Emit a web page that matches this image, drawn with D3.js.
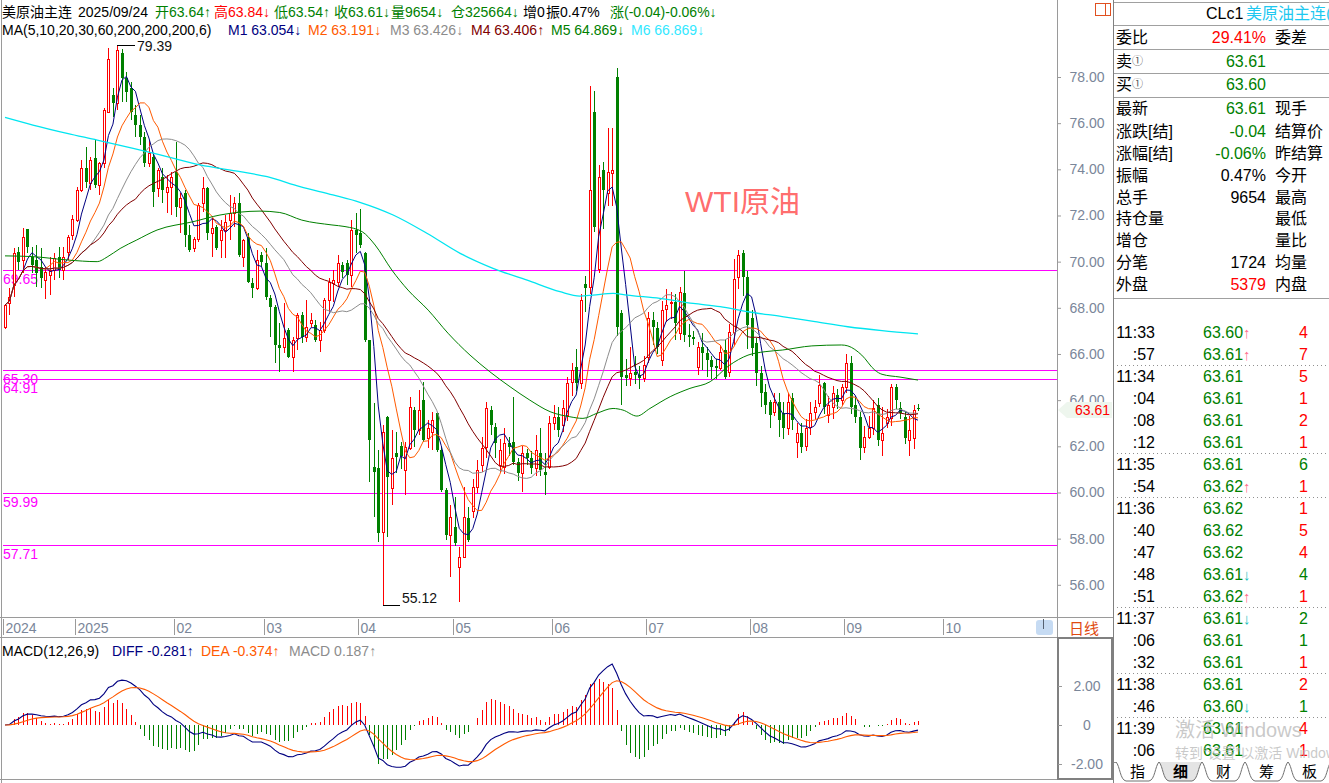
<!DOCTYPE html>
<html><head><meta charset="utf-8">
<script src="https://cdn.jsdelivr.net/npm/d3@7"></script>
<style>
body{margin:0;background:#fff;overflow:hidden}
svg{display:block;font-family:"Liberation Sans",Arial,"Noto Sans CJK SC",sans-serif}
</style></head><body>
<svg id="c" width="1329" height="783"></svg>
<script>
// ---------- DATA ----------
const opens=[67.18,68.2,69.0,70.43,70.07,71.41,70.22,70.07,69.78,69.2,
69.42,69.64,70.22,69.64,70.43,71.15,71.8,73.1,74.04,73.39,
74.47,73.32,74.26,76.5,77.22,76.86,79.03,77.94,77.51,76.35,
75.92,75.41,74.26,74.55,73.17,73.68,73.03,73.25,73.9,72.38,
72.96,71.15,70.58,71.0,72.53,73.17,71.23,71.52,70.94,71.37,
71.8,72.1,72.53,70.22,71.08,69.06,68.84,70.29,69.93,68.41,
68.05,66.39,66.32,67.04,65.88,66.68,67.69,66.75,67.33,67.26,
66.6,67.04,68.34,69.06,69.13,69.86,69.93,69.42,71.37,71.23,
70.36,66.6,61.1,61.04,58.3,63.28,60.18,61.7,62.0,60.97,
61.91,63.57,62.7,64.0,62.34,62.63,63.43,61.84,60.1,58.16,
58.5,56.78,57.21,58.88,59.2,60.25,61.2,61.98,63.57,62.85,
61.19,61.12,62.13,62.2,61.33,60.83,61.69,61.48,61.05,61.69,
60.9,61.12,63.0,63.28,62.92,63.36,64.8,65.45,64.73,69.03,
68.92,76.5,69.7,73.97,72.96,73.83,78.0,67.76,65.09,64.94,
65.23,65.09,64.94,65.88,67.47,67.11,65.74,67.97,68.2,68.27,
66.89,68.63,66.82,66.75,65.45,66.32,66.03,65.74,65.5,65.38,
66.17,65.23,66.97,69.35,70.36,69.35,67.54,66.46,65.16,64.37,
63.93,63.5,63.93,63.43,62.78,64.08,62.2,62.56,62.0,62.85,
63.5,63.86,64.73,63.36,63.72,64.22,64.0,64.58,65.6,63.79,
63.28,61.98,62.42,62.78,63.79,62.27,63.0,63.21,64.58,63.65,
63.28,62.27,62.34,63.64];
const highs=[68.15,68.85,70.58,70.65,71.44,71.41,70.65,70.72,70.58,69.78,
70.22,70.36,70.65,70.65,71.15,72.02,73.25,74.4,74.98,74.55,
75.27,74.33,76.64,79.24,77.51,79.39,79.2,78.23,77.8,76.79,
76.35,75.63,75.27,74.69,74.04,74.04,73.75,73.9,75.2,72.96,
73.1,71.59,71.08,72.53,73.68,73.25,71.87,71.59,71.8,72.02,
72.89,72.82,72.96,71.0,71.23,69.28,70.5,70.43,70.58,68.55,
68.12,67.33,68.19,67.11,66.75,67.76,67.83,68.34,67.76,67.47,
67.4,68.41,69.28,69.64,70.29,70.0,70.07,71.8,72.09,72.27,
70.43,66.6,63.86,61.84,62.92,63.31,62.7,62.63,62.2,62.2,
64.15,63.72,64.44,64.8,63.14,63.5,63.5,61.98,60.18,59.46,
59.82,57.65,60.25,59.39,60.6,61.4,62.4,63.9,63.75,63.0,
62.3,62.8,62.4,64.15,61.5,62.0,61.9,61.8,62.5,62.8,
61.7,63.3,63.8,63.7,64.0,65.0,65.6,66.2,68.6,69.4,
77.6,77.4,74.2,74.3,75.8,75.8,78.4,67.9,65.8,66.3,
65.9,65.5,65.9,67.8,67.8,67.4,68.3,68.8,68.7,68.6,
68.9,69.6,67.3,67.0,66.5,66.9,66.3,65.9,65.8,66.4,
66.6,67.3,70.1,70.5,70.5,69.6,67.9,66.7,65.5,64.7,
64.0,64.3,64.3,63.9,64.3,64.3,63.0,63.0,63.2,63.9,
64.0,65.1,64.8,64.2,64.6,64.5,64.7,66.0,65.9,64.2,
63.5,62.9,63.3,64.0,64.1,63.7,63.6,64.7,64.7,63.9,
63.5,63.3,63.8,63.84];
const lows=[67.07,67.7,68.48,69.64,69.5,70.36,69.5,68.92,68.84,68.4,
68.55,69.2,69.28,69.2,70.07,70.94,71.73,73.03,73.17,73.1,
73.17,72.89,74.04,76.5,76.28,76.57,76.93,76.93,76.14,75.41,
75.05,74.12,74.12,72.38,72.82,72.53,72.1,72.02,71.95,71.23,
70.65,70.43,70.43,70.87,72.17,70.94,70.22,70.5,70.14,70.14,
70.94,71.52,70.22,69.78,69.06,68.41,68.77,69.78,68.34,66.75,
65.6,65.23,66.03,65.81,65.23,66.17,66.46,66.53,67.18,66.53,
66.1,66.9,67.83,68.26,68.91,69.28,68.99,68.91,70.36,70.58,
66.53,60.47,58.95,57.87,55.12,58.08,59.46,60.83,61.0,59.89,
61.84,61.98,62.49,62.2,61.91,61.84,61.77,60.03,57.94,56.35,
57.7,55.27,57.14,57.87,58.9,59.96,60.9,61.5,62.5,61.5,
60.9,60.8,61.6,61.2,60.5,60.0,61.2,60.8,60.7,60.7,
59.9,61.0,62.7,62.4,62.6,63.1,64.2,64.4,64.5,67.8,
68.6,71.3,69.5,71.4,72.4,72.4,66.8,63.8,64.6,64.6,
64.7,64.5,64.8,65.6,66.4,66.0,65.5,67.4,67.5,66.6,
66.6,66.5,66.3,66.4,65.1,65.3,65.0,64.9,64.9,65.3,
64.9,65.0,66.4,68.8,68.5,66.2,65.9,64.6,63.7,63.4,
62.8,63.3,62.4,62.3,62.5,62.7,61.5,61.7,61.8,62.5,
63.2,63.7,63.4,63.0,63.2,63.6,63.8,64.3,63.4,63.0,
61.4,61.7,62.3,62.5,62.0,61.6,62.8,62.9,63.6,63.2,
62.1,61.6,61.9,63.54];
const closes=[68.12,68.48,70.36,70.0,71.08,70.65,69.86,69.5,69.28,69.57,
69.64,70.14,69.64,70.22,71.08,71.83,73.1,74.07,73.47,74.4,
73.32,74.26,76.57,78.78,76.86,79.17,77.94,77.36,76.5,75.92,
75.41,74.26,74.69,73.03,73.97,73.1,73.25,73.68,72.38,72.74,
71.15,70.5,71.0,72.45,73.17,71.23,71.44,70.58,71.37,71.73,
72.1,72.53,70.29,70.94,69.13,68.84,70.07,70.0,68.48,68.05,
66.39,66.24,66.68,65.88,66.6,67.69,66.75,67.18,67.47,66.6,
67.04,68.34,69.13,69.2,69.93,69.57,69.42,71.37,71.15,70.72,
66.6,62.27,60.9,58.23,62.63,60.68,61.48,61.55,61.6,61.98,
63.72,62.7,63.57,62.27,62.78,63.14,61.84,60.1,58.16,58.95,
57.8,57.21,58.95,57.94,60.25,60.97,61.91,63.64,62.92,62.13,
61.84,62.13,61.98,61.33,60.83,61.69,61.48,61.05,61.84,60.97,
60.76,63.0,63.28,62.71,63.64,64.73,65.31,64.73,68.34,68.84,
73.1,71.52,73.68,73.1,73.9,73.97,67.18,65.02,64.94,65.16,
65.09,64.94,65.52,67.54,67.18,66.32,67.9,68.12,68.27,67.33,
68.7,66.82,66.75,66.63,66.32,66.03,65.74,65.45,65.4,66.1,
65.02,66.97,69.23,70.29,69.35,67.26,66.24,65.16,64.3,63.79,
63.36,63.93,63.14,62.78,63.93,63.14,62.56,61.98,62.78,63.43,
63.72,64.66,63.72,63.79,64.3,63.93,64.58,65.59,63.72,63.28,
61.91,62.42,62.78,63.65,62.27,62.56,63.28,64.58,64.0,63.43,
62.34,62.71,63.57,63.61];
// MA60 and MA200: [bar index, value]
const ma60Pts=[[0,70.25],[6,70.22],[14,70.07],[20.5,70.0],[22.7,70.2],[25.6,70.57],[29.3,70.94],[33.8,71.37],[41.8,71.73],[47.8,72.02],[56.7,72.19],[61.1,72.13],[66,71.8],[72.7,71.59],[75.6,71.52],[79.4,71.3],[82.3,70.72],[86,69.64],[89.6,68.77],[94.1,67.9],[98.5,66.9],[103.4,65.95],[107.8,65.23],[112.3,64.58],[116.7,64.0],[121.2,63.5],[125.6,63.28],[128.5,63.21],[131.6,63.43],[135.2,63.64],[137.4,63.57],[140.5,63.31],[143.4,63.64],[147.9,64.15],[152.3,64.51],[156.8,64.8],[161,65.5],[165.2,65.95],[169,66.1],[172.8,66.17],[179.4,66.35],[186,66.39],[187.4,66.35],[190.5,65.95],[193.4,65.3],[195,65.12],[199,65.0],[203,64.87]];
const ma200Pts=[[0,76.25],[6.2,75.92],[13.8,75.56],[20.5,75.27],[28.5,74.91],[36,74.55],[43.4,74.19],[52.3,73.9],[58.3,73.68],[65.6,73.25],[72.9,72.89],[78.9,72.57],[86.3,72.02],[93.8,71.23],[101.2,70.36],[108.5,69.71],[116.1,69.2],[123.4,68.7],[127.8,68.51],[130.7,68.55],[135.2,68.63],[138.3,68.55],[145.6,68.41],[153,68.19],[159,68.05],[165.2,67.83],[172.8,67.62],[180.1,67.4],[187.4,67.18],[195,67.01],[203,66.87]];
const monthTickIdx=[0,16,38,58,79,100,122,143,166,187,209];
const monthTickLabels=["2024","2025","02","03","04","05","06","07","08","09","10"];
const priceTicks=[56,58,60,62,64,66,68,70,72,74,76,78];
const macdTicks=[2,0,-2];
const hLineValues=[69.65,65.30,64.91,59.99,57.71];
const hLineLabels=["69.65","65.30","64.91","59.99","57.71"];
const maPeriods=[5,10,20,30];
const maColors=["#000080","#ff5a00","#8c8c8c","#800000"];
const infoLeft=["委比","卖","买","最新","涨跌[结]","涨幅[结]","振幅","总手","持仓量","增仓","分笔","外盘"];
const infoVal=["29.41%","63.61","63.60","63.61","-0.04","-0.06%","0.47%","9654","","","1724","5379"];
const infoValColor=["#ff0000","#008000","#008000","#008000","#008000","#008000","#000","#000","#000","#000","#000","#ff0000"];
const infoRight=["委差","","","现手","结算价","昨结算","今开","最高","最低","量比","均量","内盘"];
const infoY=[37,61,84,108,131,153,175,197,218,240,262,284];
const tickTimes=["11:33",":57","11:34",":04",":08",":12","11:35",":54","11:36",":40",":47",":48",":51","11:37",":06",":32","11:38",":46","11:39",":06"];
const tickPrices=["63.60","63.61","63.61","63.61","63.61","63.61","63.61","63.62","63.62","63.62","63.62","63.61","63.62","63.61","63.61","63.61","63.61","63.60","63.61","63.61"];
const tickArrows=["↑","↑","","","","","","↑","","","","↓","↑","↓","","","","↓","↑",""];
const tickVols=["4","7","5","1","2","1","6","1","1","5","4","4","1","2","1","1","2","1","4","1"];
const tickVolUp=[1,1,1,1,1,1,0,1,1,1,1,0,1,0,0,1,1,0,1,1];
const tickSepAfter=[1,5,7,12,15,17];

// ---------- SETUP ----------
const svg=d3.select("#c");
const N=closes.length;
const xs=d3.scaleLinear().domain([0,N-1]).range([5,918]);
const ys=d3.scaleLinear().domain([56,78]).range([584.8,77]);
const ms=d3.scaleLinear().domain([-2,2]).range([764,686]);
const RED="#ff0000",GRN="#008000",MAG="#ff00ff",AX="#7a8699";
const cx=i=>Math.round(xs(i));

const defs=svg.append("defs");
defs.append("clipPath").attr("id","main").append("rect").attr("x",2).attr("y",0).attr("width",1055).attr("height",616);
defs.append("clipPath").attr("id","macd").append("rect").attr("x",2).attr("y",641).attr("width",1055).attr("height",137);
defs.append("clipPath").attr("id","rp").append("rect").attr("x",1114).attr("y",0).attr("width",215).attr("height",783);

// ---------- FRAME ----------
const fr=svg.append("g").attr("stroke","#9a9a9a").attr("stroke-width",1).attr("shape-rendering","crispEdges");
fr.append("line").attr("x1",1.5).attr("x2",1.5).attr("y1",0).attr("y2",783);
fr.append("line").attr("x1",1057.5).attr("x2",1057.5).attr("y1",0).attr("y2",637);
fr.append("line").attr("x1",1113.5).attr("x2",1113.5).attr("y1",0).attr("y2",783).attr("stroke","#808080");
fr.append("line").attr("x1",0).attr("x2",1113).attr("y1",617.5).attr("y2",617.5);
fr.append("line").attr("x1",0).attr("x2",1113).attr("y1",637.5).attr("y2",637.5);
fr.append("line").attr("x1",0).attr("x2",1113).attr("y1",779.5).attr("y2",779.5);
svg.append("rect").attr("x",1058).attr("y",638).attr("width",54).attr("height",141).attr("fill","none").attr("stroke","#808080").attr("stroke-width",2);

// ---------- MAIN CHART ----------
const main=svg.append("g").attr("clip-path","url(#main)");
hLineValues.forEach((v,k)=>{
  main.append("line").attr("x1",3).attr("x2",1057).attr("y1",Math.round(ys(v))+0.5).attr("y2",Math.round(ys(v))+0.5)
    .attr("stroke",MAG).attr("stroke-width",1).attr("shape-rendering","crispEdges");
  main.append("text").attr("x",3).attr("y",ys(v)+9).attr("dominant-baseline","central")
    .attr("font-size",14).attr("fill",MAG).text(hLineLabels[k]);
});
svg.append("text").attr("x",685).attr("y",212).attr("font-size",30).attr("fill","#ff5a5a").attr("fill-opacity",0.9).text("WTI原油");

// candles
const cg=main.append("g").attr("shape-rendering","crispEdges");
for(let i=0;i<N;i++){
  const x=cx(i), o=opens[i], c=closes[i], up=c>=o;
  const col=up?RED:GRN;
  cg.append("line").attr("x1",x+0.5).attr("x2",x+0.5).attr("y1",ys(highs[i])).attr("y2",ys(lows[i])).attr("stroke",col);
  const yt=Math.round(ys(Math.max(o,c))), yb=Math.round(ys(Math.min(o,c)));
  if(up){
    cg.append("rect").attr("x",x-1+0.5).attr("y",yt+0.5).attr("width",2).attr("height",Math.max(yb-yt,0))
      .attr("fill","#fff").attr("stroke",RED);
  } else {
    cg.append("rect").attr("x",x-1).attr("y",yt).attr("width",3).attr("height",Math.max(yb-yt,1)).attr("fill",GRN);
  }
}
// moving averages computed from closes
function sma(arr,n){return arr.map((_,i)=>d3.mean(arr.slice(Math.max(0,i-n+1),i+1)));}
const lineGen=d3.line().x((d,i)=>xs(i)).y(d=>ys(d));
maPeriods.forEach((p,k)=>{
  main.append("path").attr("d",lineGen(sma(closes,p))).attr("fill","none").attr("stroke",maColors[k]).attr("stroke-width",1);
});
const ptLine=d3.line().x(d=>xs(d[0])).y(d=>ys(d[1])).curve(d3.curveMonotoneX);
main.append("path").attr("d",ptLine(ma60Pts)).attr("fill","none").attr("stroke","#008000").attr("stroke-width",1);
main.append("path").attr("d",ptLine(ma200Pts)).attr("fill","none").attr("stroke","#00e5f0").attr("stroke-width",1.3);

// max / min annotations
const iMax=d3.maxIndex(highs), iMin=d3.minIndex(lows);
const ann=svg.append("g").attr("stroke","#000").attr("shape-rendering","crispEdges");
ann.append("line").attr("x1",cx(iMax)).attr("x2",cx(iMax)+18).attr("y1",Math.round(ys(highs[iMax]))+0.5).attr("y2",Math.round(ys(highs[iMax]))+0.5);
svg.append("text").attr("x",cx(iMax)+20).attr("y",ys(highs[iMax])+1).attr("dominant-baseline","central").attr("font-size",14).attr("fill","#111").text(highs[iMax].toFixed(2));
ann.append("line").attr("x1",cx(iMin)).attr("x2",cx(iMin)+17).attr("y1",Math.round(ys(lows[iMin]))+0.5).attr("y2",Math.round(ys(lows[iMin]))+0.5);
svg.append("text").attr("x",cx(iMin)+19).attr("y",ys(lows[iMin])-7).attr("dominant-baseline","central").attr("font-size",14).attr("fill","#111").text(lows[iMin].toFixed(2));

// price axis
const yAxis=d3.axisRight(ys).tickValues(priceTicks).tickSize(4).tickFormat(d=>d.toFixed(2));
const ya=svg.append("g").attr("transform","translate(1057,0)").call(yAxis);
ya.select(".domain").remove();
ya.selectAll("line").attr("stroke","#9a9a9a");
ya.selectAll("text").attr("x",30).attr("text-anchor","middle").attr("font-size",14).attr("fill",AX).attr("font-family",null);
svg.append("path").attr("d","M1058,410 L1067,402 L1112,402 L1112,418 L1067,418 Z").attr("fill","#eef6ee");
svg.append("text").attr("x",1110).attr("y",410).attr("text-anchor","end").attr("dominant-baseline","central").attr("font-size",14).attr("fill",RED).text(closes[N-1].toFixed(2));

// x axis (month ticks)
const xa=svg.append("g");
monthTickIdx.forEach((m,k)=>{
  const x=Math.round(xs(m))-2+0.5;
  xa.append("line").attr("x1",x).attr("x2",x).attr("y1",619).attr("y2",635).attr("stroke","#9a9a9a").attr("shape-rendering","crispEdges");
  xa.append("text").attr("x",x+2).attr("y",628).attr("dominant-baseline","central").attr("font-size",14).attr("fill",AX).text(monthTickLabels[k]);
});
svg.append("rect").attr("x",1036).attr("y",620).attr("width",17).attr("height",15).attr("rx",3).attr("fill","#c6dbf3");
svg.append("line").attr("x1",1043.5).attr("x2",1043.5).attr("y1",619).attr("y2",629).attr("stroke","#556070");
svg.append("text").attr("x",1069).attr("y",628).attr("dominant-baseline","central").attr("font-size",15).attr("fill","#e04a10").text("日线");

// ---------- MACD ----------
function ema(arr,n){const k=2/(n+1);const out=[];arr.forEach((v,i)=>out.push(i===0?v:out[i-1]+k*(v-out[i-1])));return out;}
const e12=ema(closes,12), e26=ema(closes,26);
const diff=e12.map((v,i)=>v-e26[i]);
const dea=ema(diff,9);
const hist=diff.map((v,i)=>2*(v-dea[i]));
const mg=svg.append("g").attr("clip-path","url(#macd)");
hist.forEach((h,i)=>{
  mg.append("line").attr("x1",cx(i)+0.5).attr("x2",cx(i)+0.5).attr("y1",ms(0)).attr("y2",ms(h))
    .attr("stroke",h>=0?RED:GRN).attr("shape-rendering","crispEdges");
});
const ml=d3.line().x((d,i)=>xs(i)).y(d=>ms(d));
mg.append("path").attr("d",ml(diff)).attr("fill","none").attr("stroke","#000080").attr("stroke-width",1.1);
mg.append("path").attr("d",ml(dea)).attr("fill","none").attr("stroke","#ff5a00").attr("stroke-width",1.1);
const mAxis=d3.axisRight(ms).tickValues(macdTicks).tickSize(4).tickFormat(d=>d===0?"0":d.toFixed(2));
const mal=svg.append("g").attr("transform","translate(1058,0)").call(mAxis);
mal.select(".domain").remove();
mal.selectAll("line").attr("stroke","#9a9a9a");
mal.selectAll("text").attr("x",29).attr("text-anchor","middle").attr("font-size",14).attr("fill",AX).attr("font-family",null);

// ---------- HEADER TEXTS ----------
function seg(y,items){
  items.forEach(it=>{
    svg.append("text").attr("x",it[0]).attr("y",y).attr("dominant-baseline","central").attr("font-size",it[3]||14).attr("fill",it[2]).text(it[1]);
  });
}
seg(12,[[2,"美原油主连","#000"],[78,"2025/09/24","#000"],[155,"开63.64↑",GRN],[214,"高63.84↓",RED],[274,"低63.54↑",GRN],[334,"收63.61↓",GRN],[391,"量9654↓",GRN],[451,"仓325664↓",GRN],[523,"增0","#000"],[546,"振0.47%","#000"],[610,"涨(-0.04)-0.06%↓",GRN]]);
seg(30,[[2,"MA(5,10,20,30,60,200,200,200,6)","#000"],[228,"M1 63.054↓","#000080"],[308,"M2 63.191↓","#ff5a00"],[390,"M3 63.426↓","#8c8c8c"],[471,"M4 63.406↑","#800000"],[551,"M5 64.869↓","#008000"],[631,"M6 66.869↓","#33e8ff"]]);
seg(651,[[2,"MACD(12,26,9)","#000"],[112,"DIFF -0.281↑","#000080"],[201,"DEA -0.374↑","#ff5a00"],[289,"MACD 0.187↑","#8c8c8c"]]);

// ---------- RIGHT PANEL ----------
const rp=svg.append("g").attr("clip-path","url(#rp)");
[2,25,49,73,97,298].forEach(y=>rp.append("line").attr("x1",1114).attr("x2",1329).attr("y1",y+0.5).attr("y2",y+0.5).attr("stroke","#a0a0a0").attr("shape-rendering","crispEdges"));
svg.append("rect").attr("x",1095.5).attr("y",3.5).attr("width",15).attr("height",12).attr("fill","none").attr("stroke","#e05020");
svg.append("line").attr("x1",1105.5).attr("x2",1105.5).attr("y1",3.5).attr("y2",15.5).attr("stroke","#e05020");
rp.append("text").attr("x",1206).attr("y",13).attr("dominant-baseline","central").attr("font-size",16).attr("fill","#000").text("CLc1");
rp.append("text").attr("x",1246).attr("y",13).attr("dominant-baseline","central").attr("font-size",16).attr("fill","#1ec8f0").text("美原油主连(");
infoLeft.forEach((t,k)=>{
  const tx=rp.append("text").attr("x",1116).attr("y",infoY[k]).attr("dominant-baseline","central").attr("font-size",16).attr("fill","#000").text(t);
  if(k===1||k===2) tx.append("tspan").attr("font-size",11).attr("fill","#555").text("①");
  rp.append("text").attr("x",1266).attr("y",infoY[k]).attr("text-anchor","end").attr("dominant-baseline","central").attr("font-size",16).attr("fill",infoValColor[k]).text(infoVal[k]);
  rp.append("text").attr("x",1275).attr("y",infoY[k]).attr("dominant-baseline","central").attr("font-size",16).attr("fill","#000").text(infoRight[k]);
});
tickTimes.forEach((t,k)=>{
  const y=332+22*k;
  rp.append("text").attr("x",1155).attr("y",y).attr("text-anchor","end").attr("dominant-baseline","central").attr("font-size",16).attr("fill","#000").text(t);
  const pt=rp.append("text").attr("x",1203).attr("y",y).attr("dominant-baseline","central").attr("font-size",16).attr("fill",GRN).text(tickPrices[k]);
  if(tickArrows[k]) pt.append("tspan").attr("fill",tickArrows[k]==="↑"?"#ff7090":"#20c0c0").attr("font-size",15).text(tickArrows[k]);
  rp.append("text").attr("x",1308).attr("y",y).attr("text-anchor","end").attr("dominant-baseline","central").attr("font-size",16).attr("fill",tickVolUp[k]?RED:GRN).text(tickVols[k]);
});
tickSepAfter.forEach(k=>{
  const y=332+22*k+11.5;
  rp.append("line").attr("x1",1117).attr("x2",1329).attr("y1",y).attr("y2",y).attr("stroke","#909090").attr("stroke-dasharray","1,3");
});
const tabs=["指","细","财","筹","板"];
rp.append("line").attr("x1",1114).attr("x2",1329).attr("y1",762.5).attr("y2",762.5).attr("stroke","#909090");
tabs.forEach((t,k)=>{
  const xl=1116+43*k, xr=xl+43;
  rp.append("path").attr("d",`M${xl},762 C${xl+4},766 ${xl+4},780 ${xl+10},781 L${xr-10},781 C${xr-4},780 ${xr-4},766 ${xr},762`)
    .attr("fill",k===1?"#e4e4e4":"#fff").attr("stroke","#707070");
  rp.append("text").attr("x",(xl+xr)/2).attr("y",771).attr("text-anchor","middle").attr("dominant-baseline","central")
    .attr("font-size",15).attr("font-weight",k===1?"bold":"normal").attr("fill","#000").text(t);
});
// OS watermark overlay (present in the reference)
rp.append("text").attr("x",1175).attr("y",730).attr("dominant-baseline","central").attr("font-size",20).attr("fill","#b8b8b8").attr("fill-opacity",0.75).text("激活 Windows");
rp.append("text").attr("x",1175).attr("y",753).attr("dominant-baseline","central").attr("font-size",14).attr("fill","#b8b8b8").attr("fill-opacity",0.75).text("转到\u201C设置\u201D以激活 Windows。");
</script>
</body></html>
